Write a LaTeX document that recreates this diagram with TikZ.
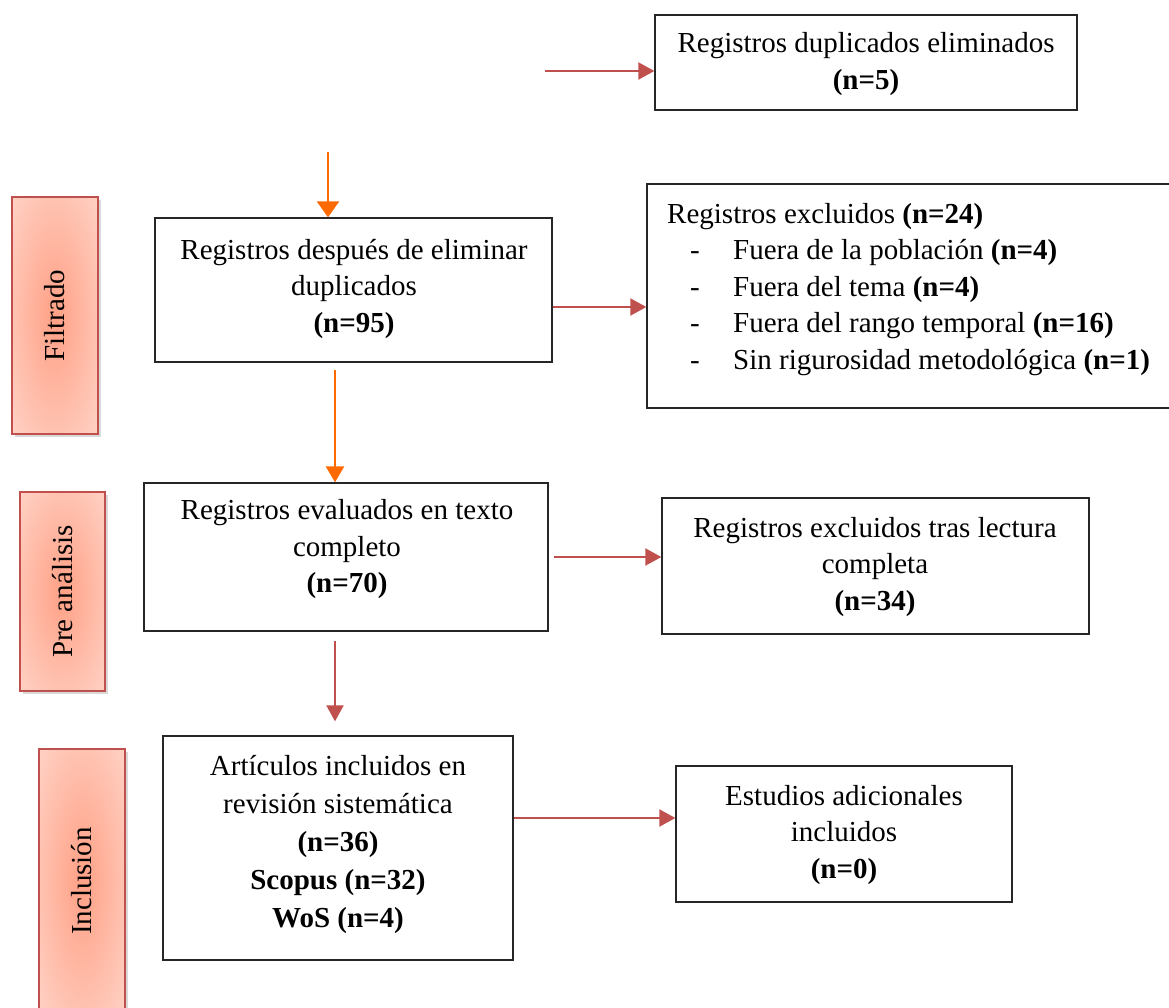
\documentclass[tikz,border=0pt]{standalone}
\usepackage{fontspec}
\setmainfont{Liberation Serif}
\usetikzlibrary{arrows.meta,shadows,calc}
\definecolor{accred}{HTML}{C0504D}
\definecolor{orng}{HTML}{FF6A00}
\definecolor{salmonc}{HTML}{FFA085}
\definecolor{pinklt}{HTML}{FFE6DF}
\pgfdeclareradialshading{sidegrad}{\pgfpoint{0bp}{0bp}}{color(0bp)=(salmonc); color(50bp)=(pinklt); color(75bp)=(pinklt)}
\begin{document}
\begin{tikzpicture}[x=1pt,y=-1pt,
  font=\fontsize{29}{36.5}\selectfont,
  box/.style={draw=black!85, line width=1.3pt, rectangle, inner sep=0pt},
  sidebox/.style={draw=accred, line width=2.5pt, rectangle, inner sep=0pt, shading=sidegrad,
    drop shadow={shadow xshift=3pt, shadow yshift=-3pt, opacity=0.25, fill=black!60}},
  txt/.style={align=center, inner sep=0pt},
  redarrow/.style={draw=accred, line width=2pt, -{Triangle[length=16pt,width=17pt]}},
  orarrow/.style={draw=orng, line width=2.5pt, -{Triangle[length=16pt,width=18pt]}}]
\useasboundingbox (0,0) rectangle (1169,1007);

% side labels
\node[sidebox, minimum width=86pt, minimum height=237pt] (s1) at (55,315.5) {};
\node[rotate=90, inner sep=0pt] (s1t) at (s1.center) {Filtrado};
\node[sidebox, minimum width=85pt, minimum height=199pt] (s2) at (62.5,591.5) {};
\node[rotate=90, inner sep=0pt] (s2t) at (s2.center) {Pre análisis};
\node[sidebox, minimum width=86pt, minimum height=264pt] (s3) at (82,881) {};
\node[rotate=90, inner sep=0pt] (s3t) at (s3.center) {Inclusión};

% boxes
\node[box, minimum width=422pt, minimum height=95pt] (b1) at (866,62.5) {};
\node[txt] (t1) at (866,64) {Registros duplicados eliminados\\ \textbf{(n=5)}};

\node[box, minimum width=397pt, minimum height=144pt] (b4) at (353.5,290) {};
\node[txt] (t4) at (354,288.5) {Registros después de eliminar\\ duplicados\\ \textbf{(n=95)}};

\node[box, minimum width=540pt, minimum height=224pt] (b6) at (917,296) {};
\node[align=left, inner sep=0pt, anchor=west] (t6) at (667,289.5) {Registros excluidos \textbf{(n=24)}\\
\hspace*{23pt}\makebox[43pt][l]{-}Fuera de la población \textbf{(n=4)}\\
\hspace*{23pt}\makebox[43pt][l]{-}Fuera del tema \textbf{(n=4)}\\
\hspace*{23pt}\makebox[43pt][l]{-}Fuera del rango temporal \textbf{(n=16)}\\
\hspace*{23pt}\makebox[43pt][l]{-}Sin rigurosidad metodológica \textbf{(n=1)}};

\node[box, minimum width=404pt, minimum height=148pt] (b8) at (346,557) {};
\node[txt] (t8) at (347,549.5) {Registros evaluados en texto\\ completo\\ \textbf{(n=70)}};

\node[box, minimum width=427pt, minimum height=136pt] (b10) at (875.5,566) {};
\node[txt] (t10) at (875,567) {Registros excluidos tras lectura\\ completa\\ \textbf{(n=34)}};

\node[box, minimum width=350pt, minimum height=224pt] (b12) at (338,848) {};
\node[txt, font=\fontsize{29}{38}\selectfont] (t12) at (338,844) {Artículos incluidos en\\ revisión sistemática\\ \textbf{(n=36)}\\ \textbf{Scopus (n=32)}\\ \textbf{WoS (n=4)}};

\node[box, minimum width=336pt, minimum height=136pt] (b14) at (844,834) {};
\node[txt] (t14) at (844,835) {Estudios adicionales\\ incluidos\\ \textbf{(n=0)}};

% connectors
\coordinate (a1) at (545,71);
\draw[redarrow] (a1) -- (a1 -| b1.west);
\coordinate (a2) at (328,152);
\draw[orarrow, -{Triangle[length=16pt,width=22pt]}] (a2) -- (a2 |- b4.north);
\draw[redarrow] ([yshift=-17pt]b4.east) -- ([yshift=-17pt]b4.east -| b6.west);
\coordinate (a4) at (335,370);
\draw[orarrow] (a4) -- (a4 |- b8.north);
\draw[redarrow, shorten <=5pt] (b8.east) -- (b8.east -| b10.west);
\coordinate (a6) at (335,641);
\draw[redarrow, shorten >=14pt] (a6) -- (a6 |- b12.north);
\draw[redarrow] ([yshift=30pt]b12.east) -- ([yshift=30pt]b12.east -| b14.west);
\end{tikzpicture}
\end{document}
